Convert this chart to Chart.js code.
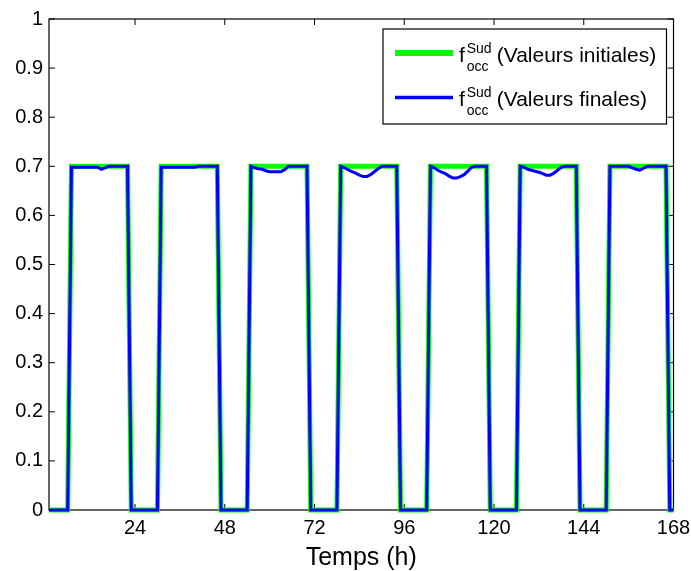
<!DOCTYPE html>
<html>
<head>
<meta charset="utf-8">
<script src="https://cdn.jsdelivr.net/npm/chart.js@4/dist/chart.umd.min.js"></script>
<style>
  body { margin: 0; background: #fff; }
  canvas { display: block; }
</style>
</head>
<body>
<canvas id="myChart" width="691" height="571"></canvas>
<script>
// f_occ^Sud, valeurs initiales (step points, hours)
var hoursInit = [1, 6, 7, 22, 23, 30, 31, 46, 47, 54, 55, 70, 71, 78, 79, 94,
    95, 102, 103, 118, 119, 126, 127, 142, 143, 150, 151, 166, 167, 168];
var valuesInit = [0, 0, 0.7, 0.7, 0, 0, 0.7, 0.7, 0, 0, 0.7, 0.7, 0, 0, 0.7, 0.7,
    0, 0, 0.7, 0.7, 0, 0, 0.7, 0.7, 0, 0, 0.7, 0.7, 0, 0];

// f_occ^Sud, valeurs finales
var hoursFinal = [1, 6, 7, 14, 15, 16, 17, 22, 23,
    30, 31, 40, 41, 46, 47,
    54, 55, 56, 57, 58, 59, 60, 63, 64, 65, 70, 71,
    78, 79, 80, 81, 82, 83, 84, 85, 86, 87, 88, 89, 90, 94, 95,
    102, 103, 104, 105, 106, 107, 108, 109, 110, 111, 112, 113, 114, 115, 118, 119,
    126, 127, 128, 129, 130, 131, 132, 133, 134, 135, 136, 137, 138, 139, 142, 143,
    150, 151, 156, 157, 158, 159, 160, 161, 166, 167, 168];
var valuesFinal = [0, 0, 0.698, 0.698, 0.694, 0.697, 0.7, 0.7, 0,
    0, 0.698, 0.698, 0.7, 0.7, 0,
    0, 0.7, 0.697, 0.695, 0.694, 0.691, 0.689, 0.689, 0.693, 0.7, 0.7, 0,
    0, 0.7, 0.697, 0.693, 0.689, 0.686, 0.682, 0.679, 0.679, 0.683, 0.689, 0.695, 0.7, 0.7, 0,
    0, 0.7, 0.697, 0.692, 0.688, 0.685, 0.68, 0.676, 0.676, 0.679, 0.683, 0.69, 0.698, 0.7, 0.7, 0,
    0, 0.7, 0.698, 0.694, 0.692, 0.69, 0.688, 0.685, 0.682, 0.682, 0.686, 0.692, 0.698, 0.7, 0.7, 0,
    0, 0.7, 0.7, 0.697, 0.694, 0.692, 0.696, 0.7, 0.7, 0, 0];

var xTicks = [24, 48, 72, 96, 120, 144, 168];
var xTickLabels = ['24', '48', '72', '96', '120', '144', '168'];
var yTicks = [0, 0.1, 0.2, 0.3, 0.4, 0.5, 0.6, 0.7, 0.8, 0.9, 1];
var yTickLabels = ['0', '0.1', '0.2', '0.3', '0.4', '0.5', '0.6', '0.7', '0.8', '0.9', '1'];
var legendLabels = ['(Valeurs initiales)', '(Valeurs finales)'];
var colors = ['#00ff00', '#0000ff'];

var FONT = '"Liberation Sans", Arial, sans-serif';

const toPoints = (xs, ys) => xs.map((h, i) => ({x: h, y: ys[i]}));

// MATLAB style box with inward ticks + custom legend (f with sup/sub)
const matlabAxes = {
    id: 'matlabAxes',
    beforeDatasetsDraw(chart) {
        const {ctx, chartArea: a, scales} = chart;
        ctx.save();
        ctx.strokeStyle = '#000';
        ctx.lineWidth = 1.2;
        ctx.strokeRect(a.left, a.top, a.right - a.left, a.bottom - a.top);
        ctx.lineWidth = 1;
        ctx.beginPath();
        yTicks.forEach(v => {
            const py = scales.y.getPixelForValue(v);
            ctx.moveTo(a.left, py); ctx.lineTo(a.left + 6, py);
            ctx.moveTo(a.right, py); ctx.lineTo(a.right - 6, py);
        });
        xTicks.forEach(v => {
            const px = scales.x.getPixelForValue(v);
            ctx.moveTo(px, a.bottom); ctx.lineTo(px, a.bottom - 6);
            ctx.moveTo(px, a.top); ctx.lineTo(px, a.top + 6);
        });
        ctx.stroke();
        ctx.restore();
    },
    afterDraw(chart) {
        const {ctx, chartArea: a} = chart;
        const w = 283.5, h = 95;
        const left = a.right - 7 - w, top = a.top + 10;
        ctx.save();
        ctx.fillStyle = '#fff';
        ctx.fillRect(left, top, w, h);
        ctx.strokeStyle = '#000';
        ctx.lineWidth = 1.2;
        ctx.strokeRect(left, top, w, h);
        legendLabels.forEach((lab, i) => {
            const dy = i * 44.5;
            ctx.strokeStyle = colors[i];
            ctx.lineWidth = i === 0 ? 6 : 3.5;
            ctx.beginPath();
            ctx.moveTo(left + 12, top + 24 + dy);
            ctx.lineTo(left + 70, top + 24 + dy);
            ctx.stroke();
            ctx.fillStyle = '#000';
            ctx.textAlign = 'left';
            ctx.textBaseline = 'alphabetic';
            ctx.font = '21px ' + FONT;
            ctx.fillText('f', left + 76, top + 32.5 + dy);
            ctx.fillText(lab, left + 113.7, top + 32.5 + dy);
            ctx.font = '14px ' + FONT;
            ctx.fillText('Sud', left + 83.7, top + 23.5 + dy);
            ctx.fillText('occ', left + 83.7, top + 41.5 + dy);
        });
        ctx.restore();
    }
};

var ctx = document.getElementById('myChart').getContext('2d');
var myChart = new Chart(ctx, {
    type: 'line',
    data: {
        datasets: [
            {
                label: 'Valeurs initiales',
                data: toPoints(hoursInit, valuesInit),
                borderColor: colors[0],
                borderWidth: 5,
                pointRadius: 0,
                tension: 0,
                clip: false,
                order: 2,
            },
            {
                label: 'Valeurs finales',
                data: toPoints(hoursFinal, valuesFinal),
                borderColor: colors[1],
                borderWidth: 3,
                pointRadius: 0,
                tension: 0,
                clip: false,
                order: 1,
            },
        ],
    },
    options: {
        responsive: false,
        animation: false,
        layout: { padding: { left: 0, right: 17.5, top: 19, bottom: 0 } },
        plugins: { legend: { display: false }, tooltip: { enabled: false } },
        scales: {
            x: {
                type: 'linear',
                min: 1,
                max: 168,
                grid: { display: false, drawTicks: false, tickLength: 0 },
                border: { display: false },
                afterBuildTicks: (scale) => { scale.ticks = xTicks.map(v => ({value: v})); },
                afterFit: (scale) => {
                    scale.height = 61;
                    scale.paddingLeft = 0;
                    scale.paddingRight = 0;
                },
                ticks: {
                    autoSkip: false,
                    maxRotation: 0,
                    padding: 6,
                    color: '#000',
                    font: { family: FONT, size: 20 },
                    callback: (v, i) => xTickLabels[i],
                },
                title: {
                    display: true,
                    text: 'Temps (h)',
                    color: '#000',
                    font: { family: FONT, size: 25, lineHeight: 1 },
                    padding: { top: 0, bottom: 0 },
                },
            },
            y: {
                min: 0,
                max: 1,
                grid: { display: false, drawTicks: false, tickLength: 0 },
                border: { display: false },
                afterBuildTicks: (scale) => { scale.ticks = yTicks.map(v => ({value: v})); },
                afterFit: (scale) => {
                    scale.width = 49;
                    scale.paddingTop = 0;
                    scale.paddingBottom = 0;
                },
                ticks: {
                    padding: 6,
                    color: '#000',
                    font: { family: FONT, size: 20 },
                    callback: (v, i) => yTickLabels[i],
                },
            },
        },
    },
    plugins: [matlabAxes],
});
</script>
</body>
</html>
